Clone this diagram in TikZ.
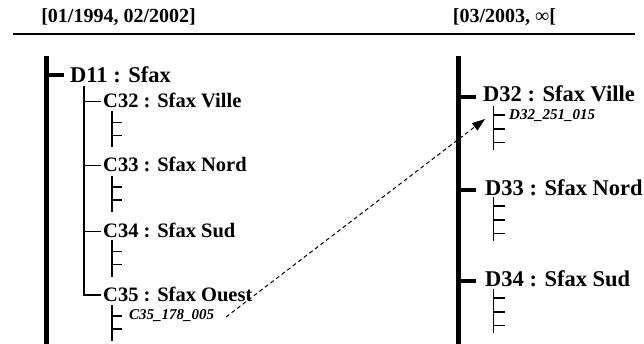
\documentclass[tikz,border=0pt]{standalone}
\usepackage{fontspec}
\setmainfont{Liberation Serif}
\usetikzlibrary{arrows.meta}
\begin{document}
\begin{tikzpicture}[x=1pt,y=-1pt,
  trunk/.style={line width=5pt},
  trunktick/.style={line width=4pt},
  branch/.style={line width=1.7pt},
  stub/.style={line width=1.6pt},
  lvlD/.style={font=\bfseries\fontsize{22.5}{27}\selectfont, inner sep=0pt, anchor=base west},
  lvlC/.style={font=\bfseries\fontsize{20.5}{24}\selectfont, inner sep=0pt, anchor=base west},
  period/.style={font=\bfseries\fontsize{20}{24}\selectfont, inner sep=0pt, anchor=base},
  code/.style={font=\bfseries\itshape\fontsize{15}{18}\selectfont, inner sep=0pt, anchor=base west},
  link/.style={dash pattern=on 4pt off 3pt, line width=1pt, -{Triangle[length=13pt,width=9pt]}},
  leaftwo/.pic={\draw[stub] (0,0) -- (0,36) (0,11) -- (10,11) (0,24) -- (10,24);},
  leafthree/.pic={\draw[stub] (0,0) -- (0,44) (0,9) -- (11,9) (0,23) -- (11,23) (0,36.5) -- (11,36.5);}
]
\useasboundingbox (0,0) rectangle (644,344);

% period headings and rule
\node[period] (p1) at (118.5,23) {[01/1994, 02/2002]};
\node[period] (p2) at (504.5,23) {[03/2003, {\mdseries ∞}[};
\draw[line width=2pt] (13,34.5) -- (635,34.5);

% left hierarchy
\draw[trunk] (46.5,56) -- (46.5,344);
\draw[trunktick] (46.5,75.5) -- (63.5,75.5);
\node[lvlD] (d11) at (70,82.5) {D11 : Sfax};

\draw[branch] (84,86) -- (84,295) -- (101,295);
\draw[branch] (84,101.5) -- (101,101.5);
\draw[branch] (84,165.5) -- (101,165.5);
\draw[branch] (84,231.5) -- (101,231.5);

\node[lvlC] (c32) at (103,108) {C32 : Sfax Ville};
\node[lvlC] (c33) at (103,172) {C33 : Sfax Nord};
\node[lvlC] (c34) at (103,238) {C34 : Sfax Sud};
\node[lvlC] (c35) at (103,301.5) {C35 : Sfax Ouest};

\pic at (112,111.5) {leaftwo};
\pic at (112,176) {leaftwo};
\pic at (112,240.5) {leaftwo};
\pic at (112,305) {leaftwo};
\node[code] (c35code) at (129,319.5) {C35\_178\_005};

% right hierarchy
\draw[trunk] (458,56) -- (458,344);
\draw[trunktick] (458,96.7) -- (476,96.7);
\draw[trunktick] (458,190) -- (476,190);
\draw[trunktick] (458,281) -- (476,281);

\node[lvlD] (d32) at (483,102) {D32 : Sfax Ville};
\node[lvlD] (d33) at (485,195.5) {D33 : Sfax Nord};
\node[lvlD] (d34) at (485,286) {D34 : Sfax Sud};

\pic at (493.5,106) {leafthree};
\pic at (493.5,197) {leafthree};
\pic at (493.5,289) {leafthree};
\node[code] (d32code) at (509,119.5) {D32\_251\_015};

% correspondence link
\coordinate (linkfrom) at (226,317);
\coordinate (linkto) at (485,119);
\draw[link] (linkfrom) -- (linkto);
\end{tikzpicture}
\end{document}
